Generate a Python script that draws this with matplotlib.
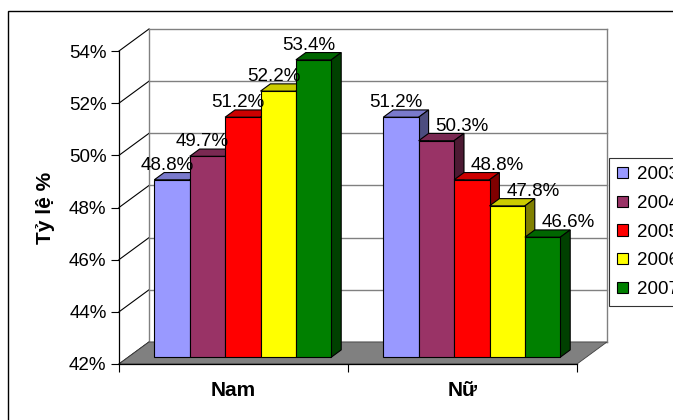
import matplotlib
matplotlib.use('Agg')
import matplotlib.pyplot as plt
from matplotlib.patches import Polygon, Rectangle, Patch
import matplotlib.colors as mcolors
import numpy as np

plt.rcParams['font.family'] = ['Liberation Sans', 'DejaVu Sans']

# data
groups = ['Nam', 'Nữ']
years = ['2003', '2004', '2005', '2006', '2007']
nam = [48.8, 49.7, 51.2, 52.2, 53.4]
nu = [51.2, 50.3, 48.8, 47.8, 46.6]
values = [nam, nu]
colors = ['#9999FF', '#993366', '#FF0000', '#FFFF00', '#008000']
yticks = [42, 44, 46, 48, 50, 52, 54]
ytick_labels = ['42%', '44%', '46%', '48%', '50%', '52%', '54%']

# fake 3d projection (depth of the floor, in data units)
DX, DY = 0.131, 0.844
F0, F1 = 0.31, 0.64          # front / back of the bars along the depth
W = 0.1546                   # bar width
GRAY = '#808080'


def shade(c, k):
    r, g, b = mcolors.to_rgb(c)
    return (r * k, g * k, b * k)


fig = plt.figure(figsize=(6.73, 4.2), dpi=100)
ax = fig.add_axes([119 / 673, 56 / 420, 458 / 673, 313 / 420])
ax.set_xlim(0, 2)
ax.set_ylim(42, 54)

# outer chart border (cut off at right/bottom like the original)
fig.add_artist(Rectangle((8 / 673, -0.1), 1.0, (420 - 11) / 420 + 0.1,
                         transform=fig.transFigure, fill=False, ec='black', lw=1))

# walls
for t in yticks:
    ax.plot([DX, 2 + DX], [t + DY, t + DY], color=GRAY, lw=1, clip_on=False, zorder=1)
    ax.plot([0, DX], [t, t + DY], color='black', lw=0.8, clip_on=False, zorder=1)
ax.plot([DX, DX], [42 + DY, 54 + DY], color=GRAY, lw=1, clip_on=False, zorder=1)
ax.plot([2 + DX, 2 + DX], [42 + DY, 54 + DY], color=GRAY, lw=1, clip_on=False, zorder=1)

# floor
floor = Polygon([(0, 42), (2, 42), (2 + DX, 42 + DY), (DX, 42 + DY)], closed=True,
                fc=GRAY, ec='#404040', lw=0.6, clip_on=False, zorder=2)
ax.add_patch(floor)

# bars
z = 3
for i, vals in enumerate(values):
    left0 = i + (1 - len(vals) * W) / 2
    for j, v in enumerate(vals):
        x0 = left0 + j * W + F0 * DX
        x1 = x0 + W
        y0 = 42 + F0 * DY
        y1 = v + F0 * DY
        ddx = (F1 - F0) * DX
        ddy = (F1 - F0) * DY
        top = Polygon([(x0, y1), (x1, y1), (x1 + ddx, y1 + ddy), (x0 + ddx, y1 + ddy)],
                      fc=shade(colors[j], 0.8), ec='black', lw=0.8, clip_on=False, zorder=z)
        side = Polygon([(x1, y0), (x1 + ddx, y0 + ddy), (x1 + ddx, y1 + ddy), (x1, y1)],
                       fc=shade(colors[j], 0.5), ec='black', lw=0.8, clip_on=False, zorder=z)
        front = Rectangle((x0, y0), W, v - 42, fc=colors[j], ec='black', lw=0.8,
                          clip_on=False, zorder=z + 1)
        ax.add_patch(top)
        ax.add_patch(side)
        ax.add_patch(front)
        z += 2
        # data label, pushed right when the previous bar is taller
        off = 15 if (j > 0 and vals[j - 1] > v) else -7
        ax.annotate(f'{v:.1f}%', xy=(x0 + W / 2 + ddx / 2, y1 + ddy),
                    xytext=(off, -1), textcoords='offset points',
                    ha='center', va='bottom', fontsize=13.5, zorder=50,
                    annotation_clip=False)

# axes
for s in ['top', 'right']:
    ax.spines[s].set_visible(False)
for s in ['left', 'bottom']:
    ax.spines[s].set_color('black')
    ax.spines[s].set_linewidth(0.9)
    ax.spines[s].set_zorder(40)
ax.set_yticks(yticks)
ax.set_yticklabels(ytick_labels, fontsize=13.5)
ax.tick_params(axis='y', direction='out', length=6, width=0.8, pad=3)
ax.set_xticks([0, 1, 2])
ax.set_xticklabels(['', '', ''])
ax.tick_params(axis='x', which='major', direction='out', length=6, width=0.8)
ax.set_xticks([0.5, 1.5], minor=True)
ax.set_xticklabels(groups, minor=True, fontsize=15, fontweight='bold')
ax.tick_params(axis='x', which='minor', length=0, pad=12)
ax.set_ylabel('Tỷ lệ %', fontsize=15, fontweight='bold')
ax.yaxis.set_label_coords(-0.14, 0.5)
ax.patch.set_visible(False)

# legend
handles = [Patch(fc=c, ec='black', lw=0.8) for c in colors]
leg = fig.legend(handles, years, loc='upper left',
                 bbox_to_anchor=(609 / 673, (420 - 158) / 420),
                 fontsize=13.5, frameon=True, fancybox=False, edgecolor='black',
                 handlelength=0.55, handleheight=0.55, handletextpad=0.5,
                 labelspacing=0.62, borderpad=0.45, borderaxespad=0)
leg.get_frame().set_linewidth(0.8)

fig.savefig('out.png', dpi=100)
